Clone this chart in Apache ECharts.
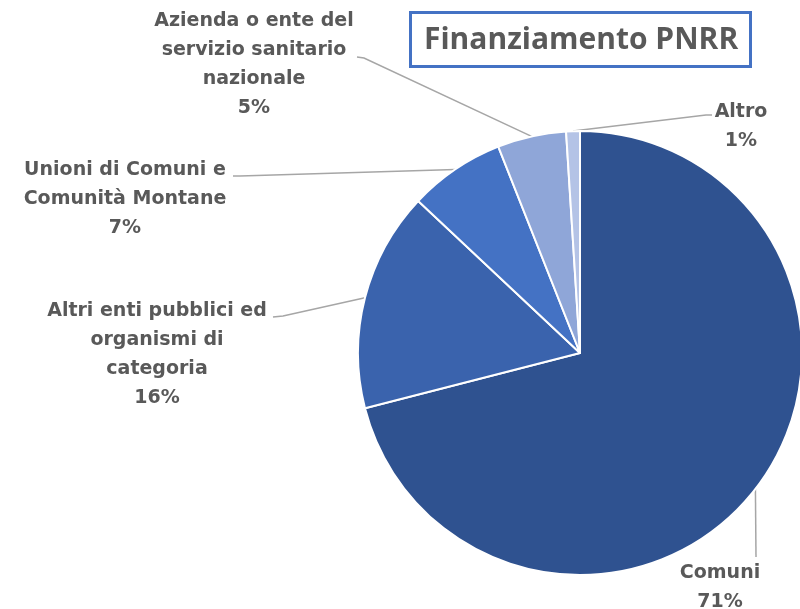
<!DOCTYPE html>
<html>
<head>
<meta charset="utf-8">
<script src="https://cdn.jsdelivr.net/npm/echarts@6/dist/echarts.min.js"></script>
<style>
  html, body { margin: 0; padding: 0; background: #fff; }
  #main { width: 800px; height: 609px; }
</style>
</head>
<body>
<div id="main"></div>
<script>
// dati del grafico
var categorie = ['Comuni', 'Altri enti pubblici ed organismi di categoria', 'Unioni di Comuni e Comunità Montane', 'Azienda o ente del servizio sanitario nazionale', 'Altro'];
var etichette = ['Comuni', 'Altri enti pubblici ed\norganismi di\ncategoria', 'Unioni di Comuni e\nComunità Montane', 'Azienda o ente del\nservizio sanitario\nnazionale', 'Altro'];
var valori = [71, 16, 7, 5, 1];
var colori = ['#2F5290', '#3A63AD', '#4472C4', '#8FA6D8', '#B4C3E6'];

// posizione etichette (centro del blocco) e punti della linea guida
var posEtichette = [
    { x: 720, y: 588, line: [[756, 557], [756, 557]] },
    { x: 157, y: 355, line: [[283, 316], [273, 317]] },
    { x: 125, y: 199, line: [[240, 176], [233, 176]] },
    { x: 254, y: 65, line: [[364, 58], [357, 57]] },
    { x: 741, y: 127, line: [[706, 115], [712, 115]] }
];

var chart = echarts.init(document.getElementById('main'));

var dati = categorie.map(function (c, i) {
    return { name: c, value: valori[i], itemStyle: { color: colori[i] } };
});

var option = {
    backgroundColor: '#ffffff',
    title: {
        text: 'Finanziamento PNRR',
        left: 410,
        top: 12,
        padding: [13, 13, 12, 14],
        borderColor: '#4472C4',
        borderWidth: 3,
        textStyle: {
            fontFamily: 'Open Sans',
            fontSize: 30,
            fontWeight: 'bold',
            color: '#595959'
        }
    },
    series: [
        {
            type: 'pie',
            left: 0,
            top: 0,
            width: 1400,
            height: 1000,
            center: [580, 353],
            radius: 222,
            startAngle: 90,
            clockwise: true,
            animation: false,
            itemStyle: {
                borderColor: '#ffffff',
                borderWidth: 2
            },
            label: {
                show: true,
                formatter: function (p) {
                    return etichette[p.dataIndex] + '\n' + Math.round(p.percent) + '%';
                },
                overflow: 'none',
                fontFamily: 'DejaVu Sans',
                fontSize: 19,
                fontWeight: 'bold',
                lineHeight: 29,
                color: '#595959',
                align: 'center'
            },
            labelLine: {
                show: true,
                lineStyle: { color: '#A6A6A6', width: 1.5 }
            },
            labelLayout: function (params) {
                var p = posEtichette[params.dataIndex];
                var start = params.labelLinePoints ? params.labelLinePoints[0] : p.line[0];
                return {
                    x: p.x,
                    y: p.y,
                    align: 'center',
                    verticalAlign: 'middle',
                    labelLinePoints: [start, p.line[0], p.line[1]]
                };
            },
            data: dati
        }
    ]
};

chart.setOption(option);
</script>
</body>
</html>
